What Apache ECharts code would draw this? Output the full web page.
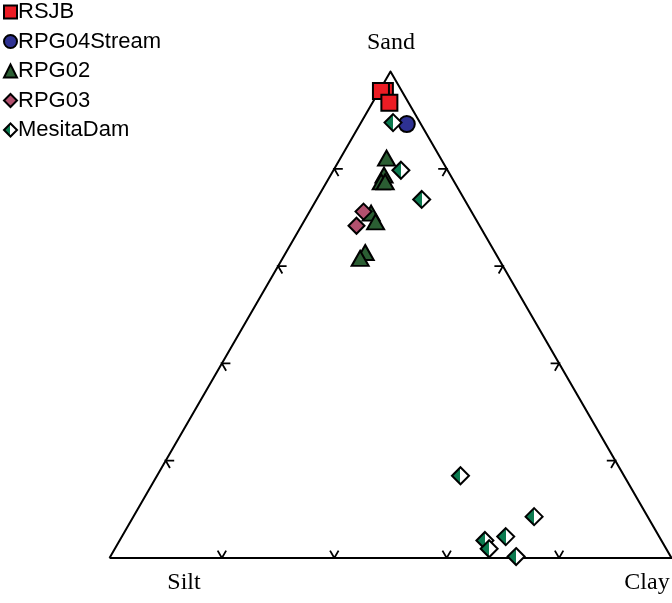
<!DOCTYPE html>
<html>
<head>
<meta charset="utf-8">
<script src="https://cdn.jsdelivr.net/npm/echarts@6/dist/echarts.min.js"></script>
<style>html,body{margin:0;padding:0;background:#fff;}#c{width:672px;height:603px;}</style>
</head>
<body>
<div id="c"></div>
<script>
// Ternary data: [Sand, Silt, Clay] in percent
const seriesNames = ['RSJB', 'RPG04Stream', 'RPG02', 'RPG03', 'MesitaDam'];
const rsjb = [[96.0, 3.0, 1.0], [96.0, 3.7, 0.3], [93.6, 3.4, 3.0]];
const rpg04Stream = [[89.2, 2.5, 8.3]];
const rpg02 = [[82.2, 9.6, 8.2], [78.7, 11.8, 9.5], [77.3, 13.0, 9.7], [77.3, 12.3, 10.4],
               [70.9, 18.0, 11.1], [69.1, 18.1, 12.8], [62.8, 23.1, 14.1], [61.6, 24.6, 13.8]];
const rpg03 = [[71.2, 19.2, 9.6], [68.3, 21.9, 9.8]];
const mesitaDam = [[89.5, 4.8, 5.7], [79.7, 8.3, 12.0], [73.7, 7.6, 18.7], [16.9, 29.1, 54.0],
                   [8.5, 20.2, 71.3], [4.4, 27.3, 68.3], [3.6, 31.4, 65.0], [1.9, 31.5, 66.6], [0.3, 27.5, 72.2]];
const tickValues = [20, 40, 60, 80];
const vertexLabels = ['Sand', 'Silt', 'Clay'];

const H = Math.sqrt(3) / 2;
function toXY(p) {
  const t = p[0] + p[1] + p[2];
  const s = p[0] / t, c = p[2] / t;
  return [c + s / 2, s * H];
}

const chart = echarts.init(document.getElementById('c'), null, {renderer: 'canvas'});
const gridW = 562;
const a = 8.5 / gridW; // tick arm length in data units

const tickLines = [];
tickValues.forEach(v => {
  const f = v / 100;
  tickLines.push({coords: [[f - a / 2, a * H], [f, 0], [f + a / 2, a * H]]});
  const lx = f / 2, ly = f * H;
  tickLines.push({coords: [[lx + a, ly], [lx, ly], [lx + a / 2, ly - a * H]]});
  const rx = 1 - f / 2;
  tickLines.push({coords: [[rx - a, ly], [rx, ly], [rx - a / 2, ly - a * H]]});
});

const MG = '#0b7a4f';
const mesitaFill = new echarts.graphic.LinearGradient(0, 0, 1, 0, [
  {offset: 0, color: MG}, {offset: 0.5, color: MG},
  {offset: 0.5, color: '#ffffff'}, {offset: 1, color: '#ffffff'}
]);

function sc(name, data, symbol, size, color) {
  return {
    name: name, type: 'scatter', data: data.map(toXY),
    symbol: symbol, symbolSize: size, silent: true,
    itemStyle: {color: color, borderColor: '#000', borderWidth: 2, opacity: 1},
    emphasis: {disabled: true}
  };
}

const serifFont = '24px "Liberation Serif", "Times New Roman", serif';

chart.setOption({
  animation: false,
  backgroundColor: '#fff',
  grid: {left: 109.5, top: 71.5, width: gridW, height: 486.5},
  xAxis: {type: 'value', min: 0, max: 1, show: false},
  yAxis: {type: 'value', min: 0, max: H, show: false},
  legend: {
    orient: 'vertical', left: 3, top: 1, padding: 0,
    itemWidth: 13, itemHeight: 13, itemGap: 7.5,
    data: seriesNames,
    textStyle: {fontFamily: 'Liberation Sans, Arial, sans-serif', fontSize: 22, color: '#000', padding: [0, 0, 0, -4]},
    selectedMode: false
  },
  graphic: [
    {type: 'text', x: 391, y: 43, style: {text: vertexLabels[0], font: serifFont, fill: '#000', textAlign: 'center', textVerticalAlign: 'middle'}},
    {type: 'text', x: 184, y: 583, style: {text: vertexLabels[1], font: serifFont, fill: '#000', textAlign: 'center', textVerticalAlign: 'middle'}},
    {type: 'text', x: 647, y: 583, style: {text: vertexLabels[2], font: serifFont, fill: '#000', textAlign: 'center', textVerticalAlign: 'middle'}}
  ],
  series: [
    {
      type: 'lines', coordinateSystem: 'cartesian2d', polyline: true, silent: true,
      data: [{coords: [[0, 0], [1, 0], [0.5, H], [0, 0]]}],
      lineStyle: {color: '#000', width: 2, opacity: 1}
    },
    {
      type: 'lines', coordinateSystem: 'cartesian2d', polyline: true, silent: true,
      data: tickLines,
      lineStyle: {color: '#000', width: 1.8, opacity: 1}
    },
    sc(seriesNames[0], rsjb, 'rect', 16, '#ec1c24'),
    sc(seriesNames[1], rpg04Stream, 'circle', 16, '#2e3192'),
    sc(seriesNames[2], rpg02, 'triangle', [17, 15], '#2b5e33'),
    sc(seriesNames[3], rpg03, 'diamond', 16, '#b3516f'),
    sc(seriesNames[4], mesitaDam, 'diamond', 17, mesitaFill)
  ]
});
</script>
</body>
</html>
